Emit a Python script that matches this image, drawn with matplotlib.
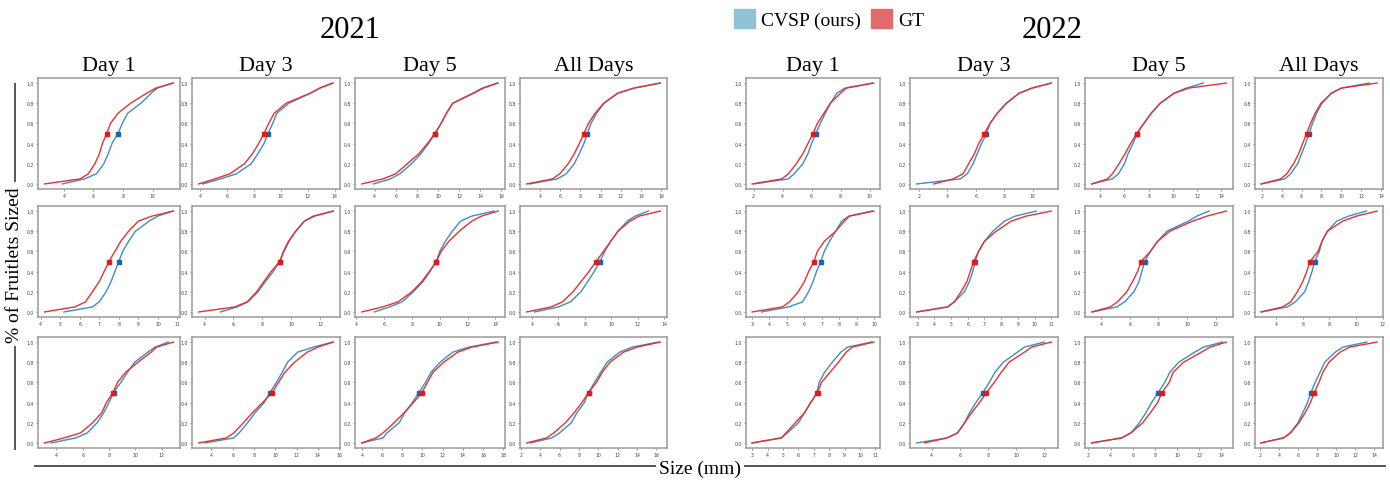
import matplotlib.pyplot as plt
from matplotlib.lines import Line2D
from matplotlib.patches import Patch
from matplotlib.ticker import MaxNLocator

levels = [0, .05, .1, .2, .3, .4, .5, .6, .7, .8, .9, .95, 1.0]
days = ["Day 1", "Day 3", "Day 5", "All Days"]
years = ["2021", "2022"]

# sizes (mm) at each level, one list per panel (Day 1, Day 3, Day 5, All Days)
gt_2021_row1 = [
    [2.7, 5.1, 5.65, 6.1, 6.4, 6.6, 6.9, 7.15, 7.65, 8.5, 9.6, 10.2, 11.4],
    [3.9, 5.1, 6.2, 7.3, 7.9, 8.35, 8.75, 9.1, 9.5, 10.4, 12.2, 12.9, 13.9],
    [2.8, 4.8, 6.0, 7.1, 8.2, 9.0, 9.7, 10.3, 10.8, 11.4, 13.4, 14.3, 15.7],
    [2.7, 5.25, 5.95, 6.8, 7.4, 7.9, 8.35, 8.8, 9.45, 10.3, 11.7, 13.3, 15.9],
]
cvsp_2021_row1 = [
    [3.9, 5.4, 6.2, 6.7, 7.0, 7.25, 7.65, 7.95, 8.3, 9.2, 9.9, 10.3, 11.3],
    [4.2, 5.5, 6.7, 7.8, 8.3, 8.75, 9.05, 9.4, 9.7, 10.6, 12.2, 12.9, 13.8],
    [3.9, 5.5, 6.4, 7.5, 8.4, 9.1, 9.75, 10.3, 10.8, 11.4, 13.3, 14.2, 15.6],
    [3.0, 5.7, 6.6, 7.4, 7.9, 8.35, 8.7, 9.05, 9.6, 10.35, 11.7, 13.3, 15.9],
]
gt_2021_row2 = [
    [4.2, 5.75, 6.3, 6.65, 7.0, 7.25, 7.5, 7.8, 8.1, 8.5, 9.0, 9.7, 10.8],
    [3.6, 6.1, 6.95, 7.6, 8.1, 8.6, 9.2, 9.45, 9.8, 10.3, 10.9, 11.6, 12.9],
    [4.4, 5.9, 7.0, 8.0, 8.7, 9.25, 9.75, 10.1, 10.65, 11.4, 12.3, 13.0, 14.2],
    [3.6, 5.45, 6.3, 7.1, 7.7, 8.3, 8.85, 9.4, 9.95, 10.5, 11.4, 12.1, 13.7],
]
cvsp_2021_row2 = [
    [5.2, 6.65, 7.0, 7.35, 7.6, 7.8, 8.0, 8.2, 8.5, 8.85, 9.55, 10.0, 10.75],
    [5.1, 6.25, 7.0, 7.7, 8.2, 8.75, 9.2, 9.5, 9.85, 10.3, 10.9, 11.5, 12.9],
    [5.3, 6.4, 7.3, 8.1, 8.8, 9.3, 9.75, 10.0, 10.4, 10.9, 11.5, 12.3, 13.9],
    [4.2, 6.0, 6.9, 7.7, 8.2, 8.7, 9.15, 9.5, 9.95, 10.5, 11.2, 11.8, 12.8],
]
gt_2021_row3 = [
    [3.1, 4.6, 5.85, 6.75, 7.45, 7.8, 8.3, 8.65, 9.25, 10.2, 11.2, 11.6, 12.9],
    [2.8, 5.4, 6.1, 7.0, 7.85, 8.8, 9.7, 10.3, 10.9, 11.8, 13.0, 14.0, 15.45],
    [4.0, 5.4, 6.1, 7.2, 8.2, 9.1, 9.95, 10.5, 11.05, 12.1, 13.5, 14.9, 17.5],
    [2.6, 4.65, 5.4, 6.6, 7.5, 8.3, 9.0, 9.8, 10.4, 11.2, 12.6, 14.0, 16.4],
]
cvsp_2021_row3 = [
    [3.6, 5.5, 6.35, 7.1, 7.6, 8.0, 8.35, 8.9, 9.4, 9.95, 10.95, 11.5, 12.5],
    [3.4, 6.1, 6.6, 7.4, 8.1, 8.95, 9.5, 10.1, 10.65, 11.15, 12.1, 13.6, 15.4],
    [4.0, 6.1, 6.5, 7.7, 8.25, 9.0, 9.65, 10.3, 10.85, 11.75, 13.0, 14.6, 17.3],
    [3.0, 5.2, 6.0, 7.2, 7.8, 8.55, 9.0, 9.6, 10.25, 10.9, 12.2, 13.5, 16.2],
]
gt_2022_row1 = [
    [1.9, 3.95, 4.4, 4.95, 5.4, 5.75, 6.1, 6.4, 6.85, 7.3, 8.0, 8.4, 10.2],
    [3.05, 4.4, 5.1, 5.5, 5.9, 6.2, 6.6, 7.0, 7.5, 8.15, 9.05, 9.95, 11.3],
    [3.3, 4.6, 5.0, 5.55, 6.05, 6.5, 7.0, 7.6, 8.2, 8.95, 10.1, 11.3, 14.4],
    [1.9, 3.9, 4.5, 5.2, 5.7, 6.1, 6.5, 6.9, 7.35, 7.95, 9.0, 10.0, 13.6],
]
cvsp_2022_row1 = [
    [2.0, 4.4, 4.8, 5.4, 5.75, 6.0, 6.3, 6.6, 6.95, 7.3, 7.75, 8.3, 10.3],
    [1.85, 4.9, 5.4, 5.8, 6.1, 6.4, 6.75, 7.0, 7.5, 8.15, 9.05, 9.95, 11.3],
    [3.3, 5.0, 5.5, 6.0, 6.3, 6.7, 7.05, 7.6, 8.2, 8.95, 10.1, 11.1, 12.5],
    [2.0, 4.3, 4.9, 5.6, 6.0, 6.4, 6.75, 7.1, 7.5, 8.05, 9.0, 10.0, 12.8],
]
gt_2022_row2 = [
    [3.0, 4.75, 5.15, 5.65, 6.0, 6.25, 6.55, 6.75, 7.15, 7.8, 8.3, 8.6, 10.0],
    [2.95, 4.8, 5.2, 5.6, 5.95, 6.15, 6.35, 6.65, 7.0, 7.7, 8.6, 9.5, 11.0],
    [3.35, 4.65, 5.15, 5.8, 6.2, 6.55, 6.8, 7.45, 7.95, 8.8, 10.4, 11.4, 12.75],
    [2.85, 4.5, 5.1, 5.6, 6.0, 6.3, 6.55, 7.15, 7.45, 7.85, 9.0, 10.05, 11.6],
]
cvsp_2022_row2 = [
    [3.55, 5.1, 5.9, 6.25, 6.5, 6.7, 6.95, 7.15, 7.45, 7.8, 8.15, 8.55, 9.9],
    [2.95, 4.8, 5.2, 5.8, 6.1, 6.3, 6.45, 6.65, 7.0, 7.5, 8.2, 8.85, 10.1],
    [3.4, 5.1, 5.65, 6.3, 6.65, 6.85, 7.05, 7.45, 7.95, 8.6, 10.1, 10.7, 11.55],
    [2.9, 4.85, 5.45, 6.15, 6.45, 6.7, 6.9, 7.25, 7.45, 7.85, 8.55, 9.45, 10.8],
]
gt_2022_row3 = [
    [3.0, 4.9, 5.2, 5.8, 6.4, 6.8, 7.25, 7.5, 8.05, 8.6, 9.1, 9.5, 10.9],
    [3.5, 5.1, 5.85, 6.35, 6.85, 7.4, 7.9, 8.45, 8.95, 9.5, 10.6, 11.1, 12.5],
    [2.3, 5.0, 5.85, 6.9, 7.6, 8.25, 8.65, 9.3, 9.65, 10.6, 12.2, 13.0, 14.45],
    [2.1, 4.5, 5.2, 6.1, 6.75, 7.3, 7.7, 8.2, 8.6, 9.25, 10.4, 11.4, 14.3],
]
cvsp_2022_row3 = [
    [3.0, 4.9, 5.3, 6.0, 6.4, 6.8, 7.2, 7.35, 7.7, 8.2, 8.75, 9.2, 10.75],
    [2.95, 5.1, 5.85, 6.35, 6.7, 7.15, 7.65, 8.1, 8.5, 9.1, 10.1, 10.6, 12.0],
    [2.3, 5.0, 5.85, 6.6, 7.2, 7.7, 8.3, 8.9, 9.35, 10.15, 11.6, 12.4, 14.1],
    [2.1, 4.5, 5.2, 6.0, 6.5, 7.0, 7.35, 7.8, 8.3, 8.8, 9.9, 10.7, 13.2],
]

gt_rows = {"2021": [gt_2021_row1, gt_2021_row2, gt_2021_row3],
           "2022": [gt_2022_row1, gt_2022_row2, gt_2022_row3]}
cvsp_rows = {"2021": [cvsp_2021_row1, cvsp_2021_row2, cvsp_2021_row3],
             "2022": [cvsp_2022_row1, cvsp_2022_row2, cvsp_2022_row3]}

W, H = 1390, 481
SERIF = "Liberation Serif"
BLUE, RED = "#3c8dc8", "#e8312e"

# panel frames in pixels
col_px = {"2021": [(38, 180), (192, 340), (355, 505), (520, 667)],
          "2022": [(746, 880), (910, 1058), (1085, 1233), (1255, 1383)]}
row_px = [(79, 190), (207, 318), (338, 449)]


def box(l, r, t, b):
    return [l / W, 1 - b / H, (r - l) / W, (b - t) / H]


fig = plt.figure(figsize=(13.9, 4.81), dpi=100)

for yr in years:
    for ri, (t, b) in enumerate(row_px):
        for ci, (l, r) in enumerate(col_px[yr]):
            ax = fig.add_axes(box(l, r, t, b))
            cv = cvsp_rows[yr][ri][ci]
            gt = gt_rows[yr][ri][ci]
            ax.plot(cv, levels, color=BLUE, lw=1.0)
            ax.plot(gt, levels, color=RED, lw=1.0)
            mid = levels.index(0.5)
            ax.plot(cv[mid], 0.5, "s", color="#1f63a8", ms=2.6)
            ax.plot(gt[mid], 0.5, "s", color="#e01b1b", ms=2.6)
            ax.xaxis.set_major_locator(MaxNLocator(nbins=9, steps=[1, 2, 2.5, 5, 10]))
            ax.set_yticks([0, .2, .4, .6, .8, 1.0])
            ax.tick_params(labelsize=3.3, length=1.5, width=0.4, pad=1.2,
                           colors="#444444")
            for s in ax.spines.values():
                s.set_color("#9a9a9a")
                s.set_linewidth(1.1)
            if ri == 0:
                fig.text((l + r) / 2 / W, 1 - 66 / H, days[ci], ha="center",
                         va="center", fontsize=16, fontfamily=SERIF)

fig.text(350 / W, 1 - 31 / H, "2021", ha="center", va="center",
         fontsize=22, fontfamily=SERIF)
fig.text(1052 / W, 1 - 31 / H, "2022", ha="center", va="center",
         fontsize=22, fontfamily=SERIF)

fig.legend(handles=[Patch(color="#8fc2d6"), Patch(color="#e36a6a")],
           labels=["CVSP (ours)", "GT"], loc="center",
           bbox_to_anchor=(829 / W, 1 - 20 / H), ncol=2, frameon=False,
           handlelength=1.1, handleheight=1.1, columnspacing=0.5,
           handletextpad=0.3, prop={"family": SERIF, "size": 14})

# y label with rules above and below
fig.text(15 / W, 1 - 265 / H, "% of Fruitlets Sized", rotation=90,
         ha="center", va="center", fontsize=14, fontfamily=SERIF)
for y0, y1 in [(85, 182), (348, 450)]:
    fig.add_artist(Line2D([15 / W, 15 / W], [1 - y0 / H, 1 - y1 / H],
                          transform=fig.transFigure, color="#555555", lw=1.4))

# x label with rules left and right
fig.text(700 / W, 1 - 469 / H, "Size (mm)", ha="center", va="center",
         fontsize=14, fontfamily=SERIF)
for x0, x1 in [(35, 655), (745, 1385)]:
    fig.add_artist(Line2D([x0 / W, x1 / W], [1 - 467 / H, 1 - 467 / H],
                          transform=fig.transFigure, color="#555555", lw=1.4))

fig.savefig("out.png", dpi=100)
